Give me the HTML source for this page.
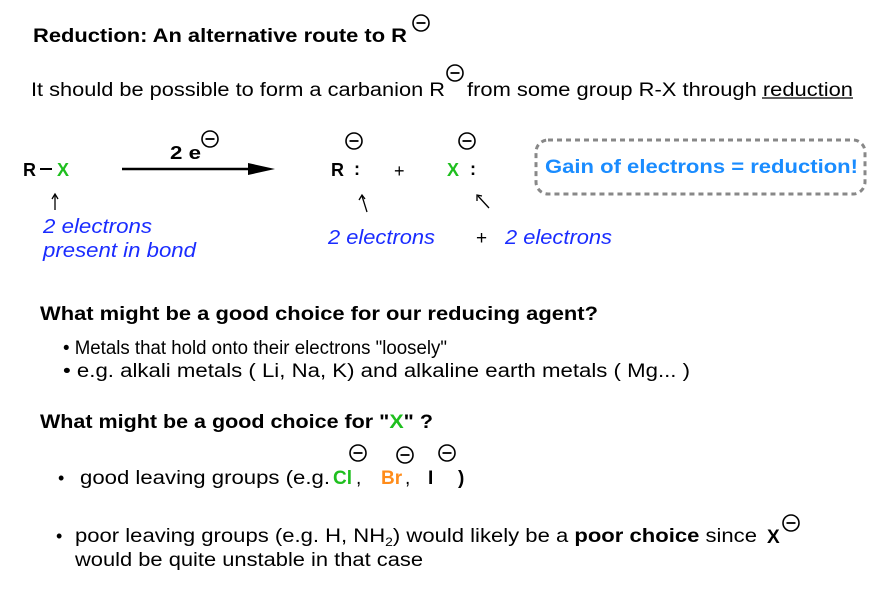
<!DOCTYPE html>
<html><head><meta charset="utf-8"><style>
html,body{margin:0;padding:0;background:#fff;}
svg{display:block;font-family:"Liberation Sans",Arial,sans-serif;}
</style></head><body>
<svg width="878" height="600" viewBox="0 0 878 600" xmlns="http://www.w3.org/2000/svg">
<defs>
<g id="neg"><circle cx="0" cy="0" r="8" fill="none" stroke="#000" stroke-width="1.6"/><line x1="-4.5" y1="0" x2="4.5" y2="0" stroke="#000" stroke-width="1.8"/></g>
</defs>
<text x="33" y="42" font-size="19" font-weight="bold" textLength="374" lengthAdjust="spacingAndGlyphs">Reduction: An alternative route to R</text>
<use href="#neg" x="421" y="23"/>
<text x="31" y="96" font-size="19" textLength="414" lengthAdjust="spacingAndGlyphs">It should be possible to form a carbanion R</text>
<use href="#neg" x="455" y="73"/>
<text x="467" y="96" font-size="19" textLength="386" lengthAdjust="spacingAndGlyphs">from some group R-X through reduction</text>
<line x1="762" y1="98" x2="853" y2="98" stroke="#000" stroke-width="1.2"/>

<text x="23" y="176" font-size="18" font-weight="bold">R</text>
<line x1="40" y1="169" x2="52" y2="169" stroke="#000" stroke-width="2"/>
<text x="57" y="176" font-size="18" font-weight="bold" fill="#1fbf1f">X</text>
<line x1="122" y1="169" x2="250" y2="169" stroke="#000" stroke-width="2.5"/>
<polygon points="248,163 275,169 248,175" fill="#000"/>
<text x="170" y="159" font-size="18" font-weight="bold" textLength="31" lengthAdjust="spacingAndGlyphs">2 e</text>
<use href="#neg" x="210" y="139"/>
<text x="331" y="176" font-size="18" font-weight="bold">R</text>
<text x="354" y="175" font-size="18" font-weight="bold">:</text>
<use href="#neg" x="354" y="141"/>
<text x="394" y="177" font-size="18">+</text>
<text x="447" y="176" font-size="18" font-weight="bold" fill="#1fbf1f">X</text>
<text x="470" y="175" font-size="18" font-weight="bold">:</text>
<use href="#neg" x="467" y="141"/>

<rect x="536" y="140" width="329" height="54" rx="12" fill="none" stroke="#888" stroke-width="3" stroke-dasharray="5,4"/>
<text x="545" y="173" font-size="19.5" font-weight="bold" fill="#1a8cff" textLength="313" lengthAdjust="spacingAndGlyphs">Gain of electrons = reduction!</text>

<g stroke="#000" stroke-width="1.3" fill="none">
<line x1="55" y1="210" x2="55" y2="195"/><polyline points="52,199 55,194 58,199"/>
<line x1="367" y1="212" x2="362" y2="196"/><polyline points="359,200 362,195 365,199"/>
<line x1="489" y1="208" x2="478" y2="196"/><polyline points="477,201 477,195 482,196"/>
</g>
<g font-size="20" font-style="italic" fill="#1a2cff">
<text x="43" y="233" textLength="109" lengthAdjust="spacingAndGlyphs">2 electrons</text>
<text x="43" y="257" textLength="153" lengthAdjust="spacingAndGlyphs">present in bond</text>
<text x="328" y="244" textLength="107" lengthAdjust="spacingAndGlyphs">2 electrons</text>
<text x="505" y="244" textLength="107" lengthAdjust="spacingAndGlyphs">2 electrons</text>
</g>
<text x="476" y="244" font-size="19">+</text>

<text x="40" y="320" font-size="19" font-weight="bold" textLength="558" lengthAdjust="spacingAndGlyphs">What might be a good choice for our reducing agent?</text>
<text x="63" y="354" font-size="19" textLength="384" lengthAdjust="spacingAndGlyphs">• Metals that hold onto their electrons "loosely"</text>
<text x="63" y="377" font-size="19" textLength="627" lengthAdjust="spacingAndGlyphs">• e.g. alkali metals ( Li, Na, K) and alkaline earth metals ( Mg...  )</text>

<text x="40" y="428" font-size="19" font-weight="bold" textLength="393" lengthAdjust="spacingAndGlyphs">What might be a good choice for "<tspan fill="#1fbf1f">X</tspan>" ?</text>

<text x="58" y="484" font-size="18">•</text>
<text x="80" y="484" font-size="19" textLength="250" lengthAdjust="spacingAndGlyphs">good leaving groups (e.g.</text>
<text x="333" y="484" font-size="19" font-weight="bold" fill="#1fbf1f">Cl</text>
<text x="356" y="484" font-size="19">,</text>
<text x="381" y="484" font-size="19" font-weight="bold" fill="#ff8c1a">Br</text>
<text x="405" y="484" font-size="19">,</text>
<text x="428" y="484" font-size="19" font-weight="bold">I</text>
<text x="458" y="484" font-size="19" font-weight="bold">)</text>
<use href="#neg" x="358" y="453"/>
<use href="#neg" x="405" y="455"/>
<use href="#neg" x="447" y="453"/>

<text x="56" y="542" font-size="18">•</text>
<text x="75" y="542" font-size="19" textLength="682" lengthAdjust="spacingAndGlyphs">poor leaving groups (e.g. H, NH<tspan font-size="12" dy="4">2</tspan><tspan dy="-4">) would likely be a </tspan><tspan font-weight="bold">poor choice</tspan> since</text>
<text x="767" y="543" font-size="19" font-weight="bold">X</text>
<use href="#neg" x="791" y="523"/>
<text x="75" y="566" font-size="19" textLength="348" lengthAdjust="spacingAndGlyphs">would be quite unstable in that case</text>
</svg>
</body></html>
